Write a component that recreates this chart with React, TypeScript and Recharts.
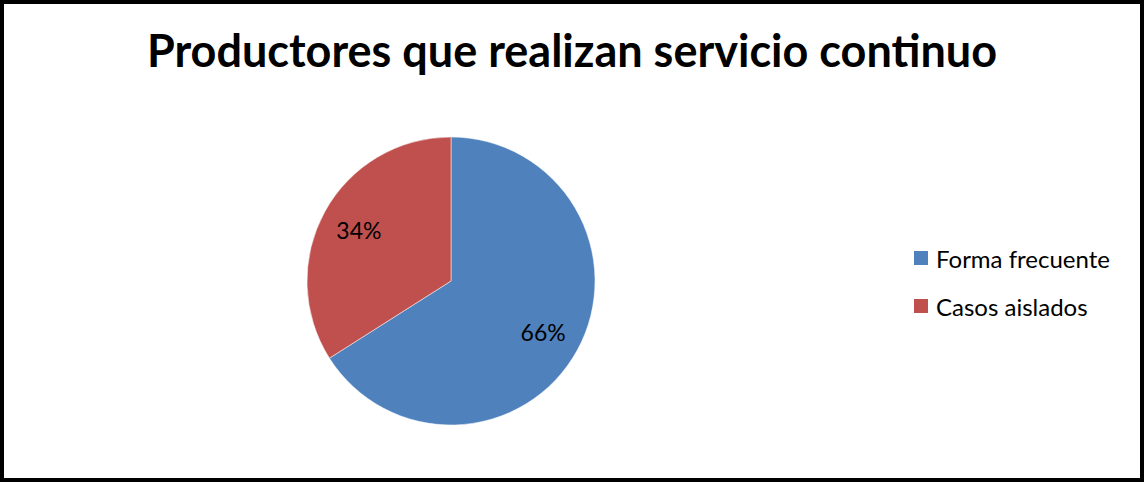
import React from "react";
import { PieChart, Pie, Cell, Legend } from "recharts";

const TITLE = "Productores que realizan servicio continuo";
const categories = ["Forma frecuente", "Casos aislados"];
const values = [66, 34];
const COLORS = ["#4F81BD", "#C0504D"];

const data = categories.map((name, i) => ({ name, value: values[i] }));
const total = values.reduce((s, v) => s + v, 0);
const FONT = "Lato, 'Open Sans', sans-serif";

const RAD = Math.PI / 180;

function renderLabel(props: any) {
  const { cx, cy, midAngle, outerRadius, value } = props;
  const r = outerRadius * 0.73;
  const x = cx + r * Math.cos(-midAngle * RAD);
  const y = cy + r * Math.sin(-midAngle * RAD);
  return (
    <text
      x={x}
      y={y}
      textAnchor="middle"
      dominantBaseline="central"
      fill="#000"
      fontSize={23}
      fontFamily={FONT}
    >
      {Math.round((value / total) * 100)}%
    </text>
  );
}

function LegendContent() {
  return (
    <div style={{ fontFamily: FONT, fontSize: 24, color: "#000" }}>
      {categories.map((name, i) => (
        <div
          key={name}
          style={{ display: "flex", alignItems: "center", height: 24, marginBottom: i === 0 ? 24 : 0 }}
        >
          <span
            style={{
              display: "inline-block",
              width: 14,
              height: 14,
              background: COLORS[i],
              marginRight: 8,
            }}
          />
          <span>{name}</span>
        </div>
      ))}
    </div>
  );
}

export default function App() {
  return (
    <div
      style={{
        position: "absolute",
        left: 0,
        top: 0,
        width: 1144,
        height: 482,
        boxSizing: "border-box",
        border: "4px solid #000",
        background: "#fff",
      }}
    >
      <div
        style={{
          position: "absolute",
          left: 0,
          top: 19,
          width: 1136,
          textAlign: "center",
          fontFamily: FONT,
          fontWeight: 700,
          fontSize: 45,
          lineHeight: "54px",
          color: "#000",
          whiteSpace: "nowrap",
        }}
      >
        {TITLE}
      </div>
      <PieChart width={1136} height={474} style={{ position: "absolute", left: 0, top: 0 }}>
        <Pie
          data={data}
          dataKey="value"
          nameKey="name"
          cx={442}
          cy={272}
          outerRadius={144}
          startAngle={90}
          endAngle={-270}
          stroke="#fff"
          strokeWidth={0.5}
          label={renderLabel}
          labelLine={false}
          isAnimationActive={false}
        >
          {data.map((d, i) => (
            <Cell key={d.name} fill={COLORS[i]} />
          ))}
        </Pie>
        <Legend
          layout="vertical"
          content={<LegendContent />}
          wrapperStyle={{ position: "absolute", left: 910, top: 242, width: 226 }}
        />
      </PieChart>
    </div>
  );
}
